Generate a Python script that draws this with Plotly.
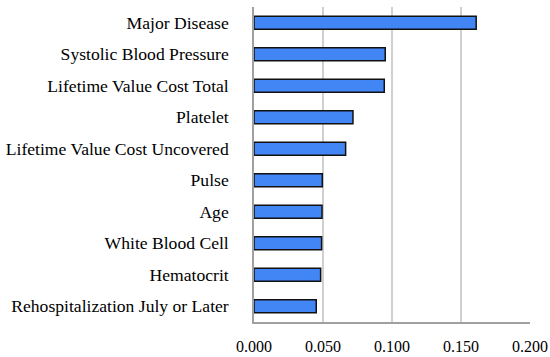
import plotly.graph_objects as go

categories = ["Major Disease", "Systolic Blood Pressure", "Lifetime Value Cost Total",
              "Platelet", "Lifetime Value Cost Uncovered", "Pulse", "Age",
              "White Blood Cell", "Hematocrit", "Rehospitalization July or Later"]
values = [0.161, 0.0951, 0.0944, 0.0717, 0.0664, 0.0495, 0.0493, 0.0490, 0.0483, 0.0451]
tick_vals = [0, 0.05, 0.1, 0.15, 0.2]
tick_text = ["0.000", "0.050", "0.100", "0.150", "0.200"]

FONT = "Liberation Serif"

fig = go.Figure(go.Bar(
    y=categories, x=values, orientation="h",
    marker=dict(color="#4285F4", line=dict(color="#111111", width=1.5)),
    width=0.41,
))
fig.update_layout(
    width=550, height=357,
    margin=dict(l=254, r=20, t=7, b=35, autoexpand=False),
    plot_bgcolor="white", paper_bgcolor="white",
    font=dict(family=FONT, size=16, color="#000000"),
    showlegend=False,
)
fig.update_xaxes(range=[0, 0.2], tickvals=tick_vals, ticktext=tick_text,
                 showgrid=True, gridcolor="#D0D0D0", gridwidth=1.5,
                 showline=True, linecolor="#A0A0A0", linewidth=1.5,
                 zeroline=False, ticks="", ticklabelstandoff=9, automargin=False,
                 tickfont=dict(family=FONT, size=16))
fig.update_yaxes(autorange="reversed", showline=True, linecolor="#A0A0A0", linewidth=1.5,
                 showgrid=False, ticks="", ticklabelstandoff=20, automargin=False,
                 tickfont=dict(family=FONT, size=17.6))
fig.write_html("out.html", config={"displayModeBar": False},
               post_script="document.body.style.margin='0';document.body.style.overflow='hidden';")
